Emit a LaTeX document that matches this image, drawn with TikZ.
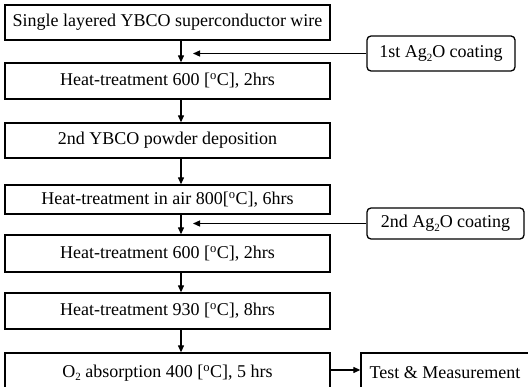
\documentclass[tikz,border=0pt]{standalone}
\usepackage{fontspec}
\setmainfont{Liberation Serif}
\usetikzlibrary{arrows.meta}
\newcommand{\degc}{\textsuperscript{o}C}
\newcommand{\lowsub}[1]{\raisebox{-3.5pt}{\fontsize{11}{12}\selectfont #1}}
\begin{document}
\begin{tikzpicture}[x=1pt,y=-1pt,
  box/.style={draw,line width=1.3pt,minimum width=325pt,inner sep=0pt,font=\fontsize{18}{20}\selectfont},
  rbox/.style={draw,line width=1.3pt,rounded corners=4pt,inner sep=0pt,font=\fontsize{18}{20}\selectfont},
  arr/.style={line width=1.2pt,-{Triangle[length=7pt,width=6pt]}}]
\useasboundingbox (0,0) rectangle (528,387);
\node[box,minimum height=35pt] (b1) at (167.5,22.5) {Single layered YBCO superconductor wire};
\node[box,minimum height=36pt] (b2) at (167.5,81) {Heat-treatment 600 [\degc], 2hrs};
\node[box,minimum height=35pt] (b3) at (167.5,140.5) {2nd YBCO powder deposition};
\node[box,minimum height=29pt] (b4) at (167.5,199.5) {Heat-treatment in air 800[\degc], 6hrs};
\node[box,minimum height=37pt] (b5) at (167.5,253.5) {Heat-treatment 600 [\degc], 2hrs};
\node[box,minimum height=36pt] (b6) at (167.5,311) {Heat-treatment 930 [\degc], 8hrs};
\node[box,minimum height=40pt] (b7) at (167.5,373) {O\lowsub{2} absorption 400 [\degc], 5 hrs};
\node[rbox,minimum width=148pt,minimum height=35pt] (s1) at (441,53.5) {1st Ag\lowsub{2}O coating};
\node[rbox,minimum width=157pt,minimum height=31pt] (s2) at (445.5,223.5) {2nd Ag\lowsub{2}O coating};
\node[box,minimum width=174pt,minimum height=40pt] (t) at (448,373) {\hspace*{-6pt}Test \& Measurement};
\coordinate (a1) at (193,53.5);
\coordinate (a2) at (193,223.5);
\foreach \u/\v in {b1/b2,b2/b3,b3/b4,b4/b5,b5/b6,b6/b7}
  \draw[arr] (181,0 |- \u.south) -- (181,0 |- \v.north);
\draw[arr] (s1.west) -- (a1);
\draw[arr] (s2.west) -- (a2);
\draw[arr] (b7.east |- 0,370) -- (t.west |- 0,370);
\end{tikzpicture}
\end{document}
